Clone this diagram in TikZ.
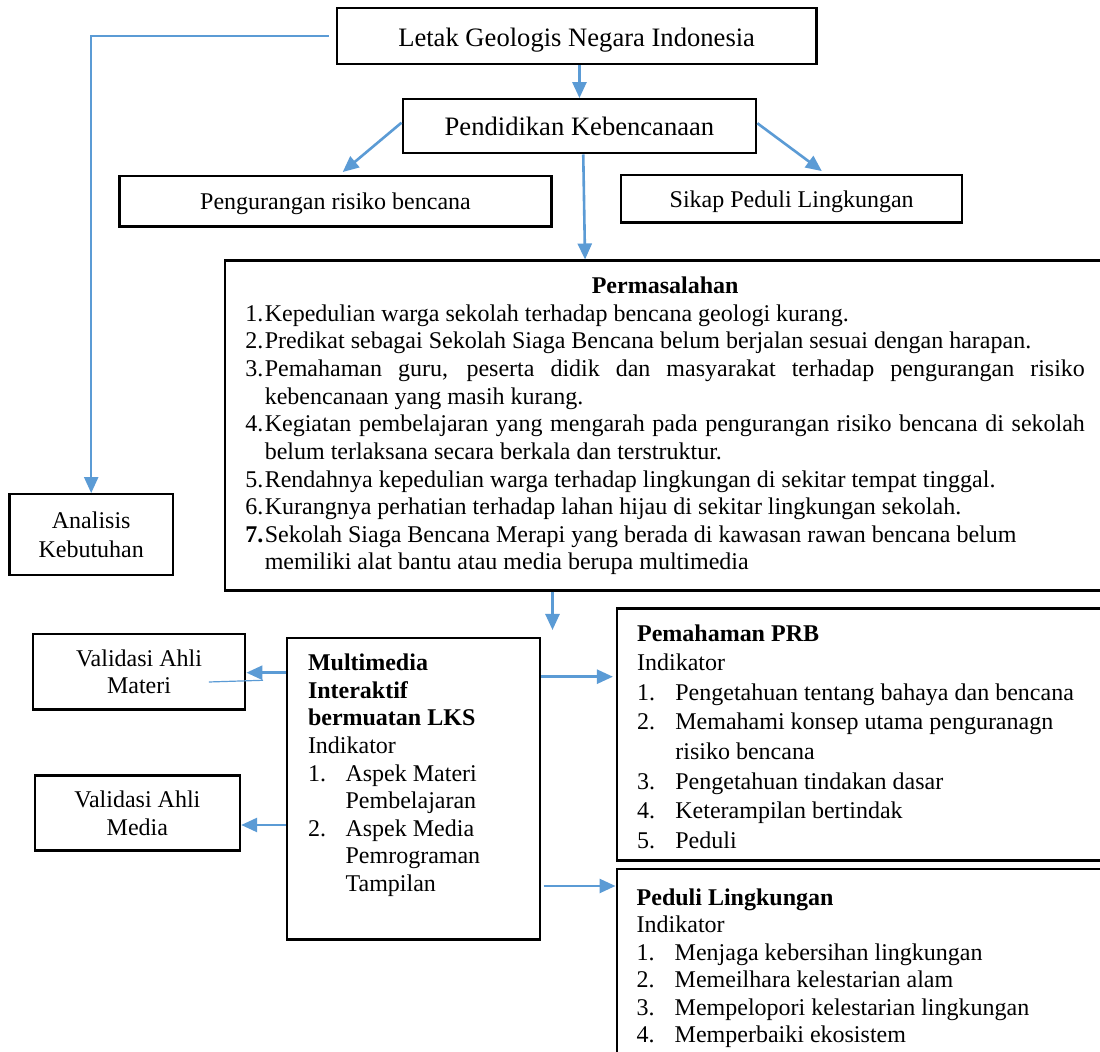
\documentclass[tikz,border=0pt]{standalone}
\usepackage{fontspec}
\setmainfont{Liberation Serif}
\usetikzlibrary{arrows.meta}
\definecolor{ablue}{RGB}{91,155,213}
\newcommand{\tstrut}{\rule{0pt}{10pt}}
\newcommand{\mknum}[2]{\makebox[#1][l]{#2}}
\begin{document}
\begin{tikzpicture}[x=0.5pt,y=-0.5pt,
  box/.style={draw, line width=1.2pt, inner sep=0pt, align=center, font=\fontsize{12}{14}\selectfont},
  bigbox/.style={box, font=\fontsize{13.3}{16}\selectfont},
  frame/.style={draw, line width=1.2pt, inner sep=0pt, anchor=north west},
  txt/.style={inner sep=0pt, anchor=north west},
  arr/.style={draw=ablue, line width=1.3pt, -{Triangle[length=8pt,width=7pt]}},
  longarr/.style={draw=ablue, line width=1.1pt, -{Triangle[length=8pt,width=7pt]}},
  stray/.style={draw=ablue, line width=0.6pt}]
\useasboundingbox (0,0) rectangle (1100,1052);
\clip (0,0) rectangle (1100,1052);
\fill[white] (0,0) rectangle (1100,1052);

% simple boxes
\node[bigbox, minimum width=239.95pt, minimum height=28pt, text height=10.5pt, text depth=0pt] (L) at (576.65,36.3) {Letak Geologis Negara Indonesia};
\node[bigbox, minimum width=176.75pt, minimum height=27pt] (P) at (579.45,126.3) {Pendidikan Kebencanaan};
\node[box, minimum width=216pt, minimum height=25.35pt, text depth=0pt] (G) at (335.5,201.3) {Pengurangan risiko bencana};
\node[box, minimum width=170.45pt, minimum height=23.85pt, text depth=0pt] (S) at (791.65,198.85) {Sikap Peduli Lingkungan};
\node[box, minimum width=81.7pt, minimum height=40.35pt, font=\fontsize{12}{14.5}\selectfont] (A) at (91.2,534.65) {Analisis\\Kebutuhan};
\node[box, minimum width=106.2pt, minimum height=37.7pt, font=\fontsize{12}{13.4}\selectfont] (VM) at (139,672) {Validasi Ahli\\Materi};
\node[box, minimum width=102.6pt, minimum height=37.5pt] (VD) at (137.4,813) {Validasi Ahli\\Media};

% large frames
\node[frame, minimum width=453pt, minimum height=164.9pt] (PM) at (224,259.5) {};
\node[frame, minimum width=126.35pt, minimum height=150.8pt] (MM) at (286,636.7) {};
\node[frame, minimum width=257.25pt, minimum height=126pt] (PRB) at (615.5,607.3) {};
\node[frame, minimum width=257.25pt, minimum height=103.5pt] (PL) at (615.5,868) {};

% Permasalahan text
\node[txt] (pmtext) at (245,273) {\vtop{\fontsize{12}{13.83}\selectfont
  \hbox to 419.75pt{\hss\tstrut\textbf{Permasalahan}\hss}
  \hbox{\mknum{9.7pt}{1.}Kepedulian warga sekolah terhadap bencana geologi kurang.}
  \hbox{\mknum{9.7pt}{2.}Predikat sebagai Sekolah Siaga Bencana belum berjalan sesuai dengan harapan.}
  \hbox to 419.75pt{\mknum{9.7pt}{3.}Pemahaman guru, peserta didik dan masyarakat terhadap pengurangan risiko}
  \hbox{\hspace*{9.7pt}kebencanaan yang masih kurang.}
  \hbox to 419.75pt{\mknum{9.7pt}{4.}Kegiatan pembelajaran yang mengarah pada pengurangan risiko bencana di sekolah}
  \hbox{\hspace*{9.7pt}belum terlaksana secara berkala dan terstruktur.}
  \hbox{\mknum{9.7pt}{5.}Rendahnya kepedulian warga terhadap lingkungan di sekitar tempat tinggal.}
  \hbox{\mknum{9.7pt}{6.}Kurangnya perhatian terhadap lahan hijau di sekitar lingkungan sekolah.}
  \hbox{\mknum{9.7pt}{\textbf{7.}}Sekolah Siaga Bencana Merapi yang berada di kawasan rawan bencana belum}
  \hbox{\hspace*{9.7pt}memiliki alat bantu atau media berupa multimedia}}};

% Multimedia text
\node[txt] (mmtext) at (307.6,650.3) {\vtop{\fontsize{12}{13.8}\selectfont
  \hbox{\tstrut\textbf{Multimedia}}
  \hbox{\textbf{Interaktif}}
  \hbox{\textbf{bermuatan LKS}}
  \hbox{Indikator}
  \hbox{\mknum{18.8pt}{1.}Aspek Materi}
  \hbox{\hspace*{18.8pt}Pembelajaran}
  \hbox{\mknum{18.8pt}{2.}Aspek Media}
  \hbox{\hspace*{18.8pt}Pemrograman}
  \hbox{\hspace*{18.8pt}Tampilan}}};

% PRB text
\node[txt] (prbtext) at (636.7,620.7) {\vtop{\fontsize{12}{14.8}\selectfont
  \hbox{\tstrut\textbf{Pemahaman PRB}}
  \hbox{Indikator}
  \hbox{\mknum{19.15pt}{1.}Pengetahuan tentang bahaya dan bencana}
  \hbox{\mknum{19.15pt}{2.}Memahami konsep utama penguranagn}
  \hbox{\hspace*{19.15pt}risiko bencana}
  \hbox{\mknum{19.15pt}{3.}Pengetahuan tindakan dasar}
  \hbox{\mknum{19.15pt}{4.}Keterampilan bertindak}
  \hbox{\mknum{19.15pt}{5.}Peduli}}};

% Peduli Lingkungan text
\node[txt] (pltext) at (636.3,885) {\vtop{\fontsize{12}{13.73}\selectfont
  \hbox{\tstrut\textbf{Peduli Lingkungan}}
  \hbox{Indikator}
  \hbox{\mknum{19pt}{1.}Menjaga kebersihan lingkungan}
  \hbox{\mknum{19pt}{2.}Memeilhara kelestarian alam}
  \hbox{\mknum{19pt}{3.}Mempelopori kelestarian lingkungan}
  \hbox{\mknum{19pt}{4.}Memperbaiki ekosistem}}};

% connectors
\coordinate (mmin) at (552.5,630);
\draw[longarr] ([xshift=-3.5pt]L.west) -| (A.north);
\draw[arr] (P.north |- L.south) -- (P.north);
\draw[arr] ([yshift=1.8pt]P.west) -- ([xshift=3.6pt,yshift=1.35pt]G.north);
\draw[arr] ([yshift=1.5pt]P.east) -- ([xshift=15.1pt,yshift=1.35pt]S.north);
\draw[arr] ([xshift=1.9pt]P.south) -- ([xshift=2.8pt]P.south |- PM.north);
\draw[arr] (PM.south -| mmin) -- (mmin);
\draw[arr] ([yshift=-0.35pt]VM.east -| MM.west) -- ([yshift=-0.35pt]VM.east);
\draw[arr] ([yshift=-6pt]VD.east -| MM.west) -- ([yshift=-6pt]VD.east);
\draw[arr] ([yshift=-34.7pt]PRB.north west -| MM.east) -- ([xshift=-1.3pt,yshift=-34.7pt]PRB.north west);
\draw[arr] ([yshift=-9pt,xshift=1.2pt]PL.north west -| MM.east) -- ([yshift=-9pt]PL.north west);
\draw[stray] (208.8,682) -- (263,680.3);
\end{tikzpicture}
\end{document}
